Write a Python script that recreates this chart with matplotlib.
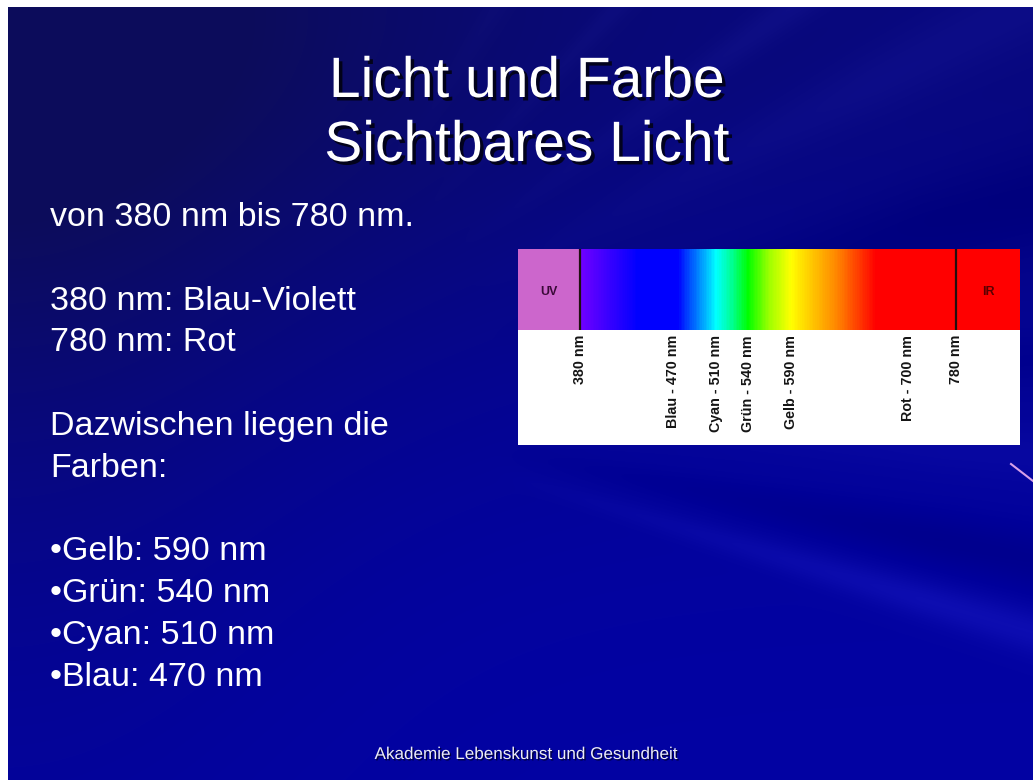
import numpy as np
import matplotlib
matplotlib.use("Agg")
import matplotlib.pyplot as plt
import matplotlib.patheffects as pe
from matplotlib.colors import LinearSegmentedColormap

# ---------------- data ----------------
title_lines = ["Licht und Farbe", "Sichtbares Licht"]
body_lines = ["von 380 nm bis 780 nm.", "", "380 nm: Blau-Violett", "780 nm: Rot", "",
              "Dazwischen liegen die", "Farben:", "",
              "•Gelb: 590 nm", "•Grün: 540 nm", "•Cyan: 510 nm", "•Blau: 470 nm"]
footer = "Akademie Lebenskunst und Gesundheit"

visible_range = [380, 780]
uv_range = [315, 380]
ir_range = [780, 845]
region_labels = ["UV", "IR"]
marker_nm = [380, 470, 510, 540, 590, 700, 780]
marker_labels = ["380 nm", "Blau - 470 nm", "Cyan - 510 nm", "Grün - 540 nm",
                 "Gelb - 590 nm", "Rot - 700 nm", "780 nm"]
stop_nm = [380, 435, 474, 495, 510, 525, 540, 565, 590, 635, 670, 780]
stop_colors = ["#7000FF", "#0000FF", "#0000FF", "#0090FF", "#00FFFF", "#00FF90",
               "#00FF00", "#A0FF00", "#FFFF00", "#FF8000", "#FF0000", "#FF0000"]

# schematic (non-linear) placement of wavelengths along the strip
anchor_nm = [315, 380, 470, 510, 540, 590, 700, 780, 845]
anchor_pos = [0, 62, 155, 198, 230, 273, 390, 438, 502]

W_PX, H_PX = 1033, 780
fig = plt.figure(figsize=(W_PX / 100, H_PX / 100), dpi=100, facecolor="white")

# ---------------- background ----------------
bg = fig.add_axes([0, 0, 1, 1])
bg.set_xlim(0, W_PX)
bg.set_ylim(H_PX, 0)
bg.set_axis_off()

H, W = H_PX - 7, W_PX - 8
yy, xx = np.mgrid[0:H, 0:W].astype(float)
X = xx + 8
Y = yy + 7
dark = np.exp(-(Y / 380) ** 2) * (0.5 + 0.5 * np.exp(-(X / 520) ** 2))
dark = np.clip(dark + 0.3 * np.exp(-((X) / 300) ** 2 - ((Y - 300) / 500) ** 2), 0, 1)
base = np.array([0.01, 0.01, 0.64])
navy = np.array([0.05, 0.05, 0.36])
img = base[None, None, :] * (1 - dark[..., None]) + navy[None, None, :] * dark[..., None]
ox, oy = 250, 400
ang = np.degrees(np.arctan2(Y - oy, X - ox))
r = np.hypot(X - ox, Y - oy)
w = np.clip((r - 250) / 450, 0, 1) * (X > ox)


def ray(center, width, amp):
    return amp * np.exp(-((ang - center) / width) ** 2) * w


bright = (ray(16.5, 1.5, 0.08) + ray(-36, 1.5, 0.05) + ray(-47, 1.2, 0.05)
          + ray(-27, 2.5, 0.04) + ray(-58, 1.5, 0.04) + ray(4, 2.0, 0.03)
          - ray(11.5, 2.2, 0.08) - ray(-14, 4, 0.05) - ray(-3, 2, 0.03))
img = img + bright[..., None] * np.array([0.5, 0.5, 0.8])[None, None, :]
img = np.clip(img, 0, 1)
bg.imshow(img, extent=(8, W_PX, H_PX, 7), aspect="auto", interpolation="bilinear", zorder=0)
bg.plot([1011, 1033], [464, 481], color="#d8a0e8", lw=1.5, zorder=1)

# ---------------- texts ----------------
shadow = [pe.withSimplePatchShadow(offset=(2.5, -2.5), shadow_rgbFace="black", alpha=0.75)]
title_base = [97, 161]
for line, yb in zip(title_lines, title_base):
    bg.text(527, yb, line, ha="center", va="baseline", fontsize=41,
            family="Liberation Sans", color="white", path_effects=shadow, zorder=3)

y0, dy = 226, 41.8
for i, line in enumerate(body_lines):
    if line:
        bg.text(50, y0 + i * dy, line, ha="left", va="baseline", fontsize=24.5,
                family="Liberation Sans", color="white", zorder=3)

bg.text(527, 759, footer, ha="center", va="baseline", fontsize=12.3,
        family="Liberation Sans", color="#ececf4",
        path_effects=[pe.withSimplePatchShadow(offset=(1, -1), shadow_rgbFace="black", alpha=0.6)],
        zorder=3)

# ---------------- spectrum strip ----------------
box_l, box_t, box_w, box_h = 518, 249, 502, 196
band_h = 81
ax = fig.add_axes([box_l / W_PX, 1 - (box_t + box_h) / H_PX, box_w / W_PX, box_h / H_PX])
ax.set_facecolor("white")


def fwd(v):
    return np.interp(v, anchor_nm, anchor_pos)


def inv(p):
    return np.interp(p, anchor_pos, anchor_nm)


ax.set_xscale("function", functions=(fwd, inv))
ax.set_xlim(uv_range[0], ir_range[1])
ax.set_ylim(box_h, 0)
for s in ax.spines.values():
    s.set_visible(False)
ax.set_xticks([])
ax.set_yticks([])
ax.xaxis.set_minor_locator(matplotlib.ticker.NullLocator())

band_frac = 1 - band_h / box_h
ax.axvspan(uv_range[0], uv_range[1], ymin=band_frac, ymax=1, color="#CC66CC", lw=0)
ax.axvspan(ir_range[0], ir_range[1], ymin=band_frac, ymax=1, color="#FF0000", lw=0)

cmap = LinearSegmentedColormap.from_list(
    "spec", [((n - stop_nm[0]) / (stop_nm[-1] - stop_nm[0]), c) for n, c in zip(stop_nm, stop_colors)])
edges = np.linspace(visible_range[0], visible_range[1], 801)
centers = 0.5 * (edges[:-1] + edges[1:])
ax.pcolormesh(edges, [0, band_h], centers[None, :], cmap=cmap, vmin=stop_nm[0], vmax=stop_nm[-1],
              shading="flat", edgecolors="none", antialiased=False, linewidth=0)
ax.vlines(visible_range, 0, band_h, color="#201010", lw=1.6)

uv_x = inv((fwd(uv_range[0]) + fwd(uv_range[1])) / 2)
ir_x = inv((fwd(ir_range[0]) + fwd(ir_range[1])) / 2)
ax.text(uv_x, 43, region_labels[0], ha="center", va="center", fontsize=9, fontweight="bold",
        family="Liberation Sans", color="#3a0a38")
ax.text(ir_x, 43, region_labels[1], ha="center", va="center", fontsize=9, fontweight="bold",
        family="Liberation Sans", color="#5a0000")

for nm, lab in zip(marker_nm, marker_labels):
    ax.text(nm, band_h + 5, lab, rotation=90, ha="center", va="top", fontsize=10.3,
            fontweight="bold", family="Liberation Sans", color="#151515")

fig.savefig("out.png", dpi=100, facecolor="white")
